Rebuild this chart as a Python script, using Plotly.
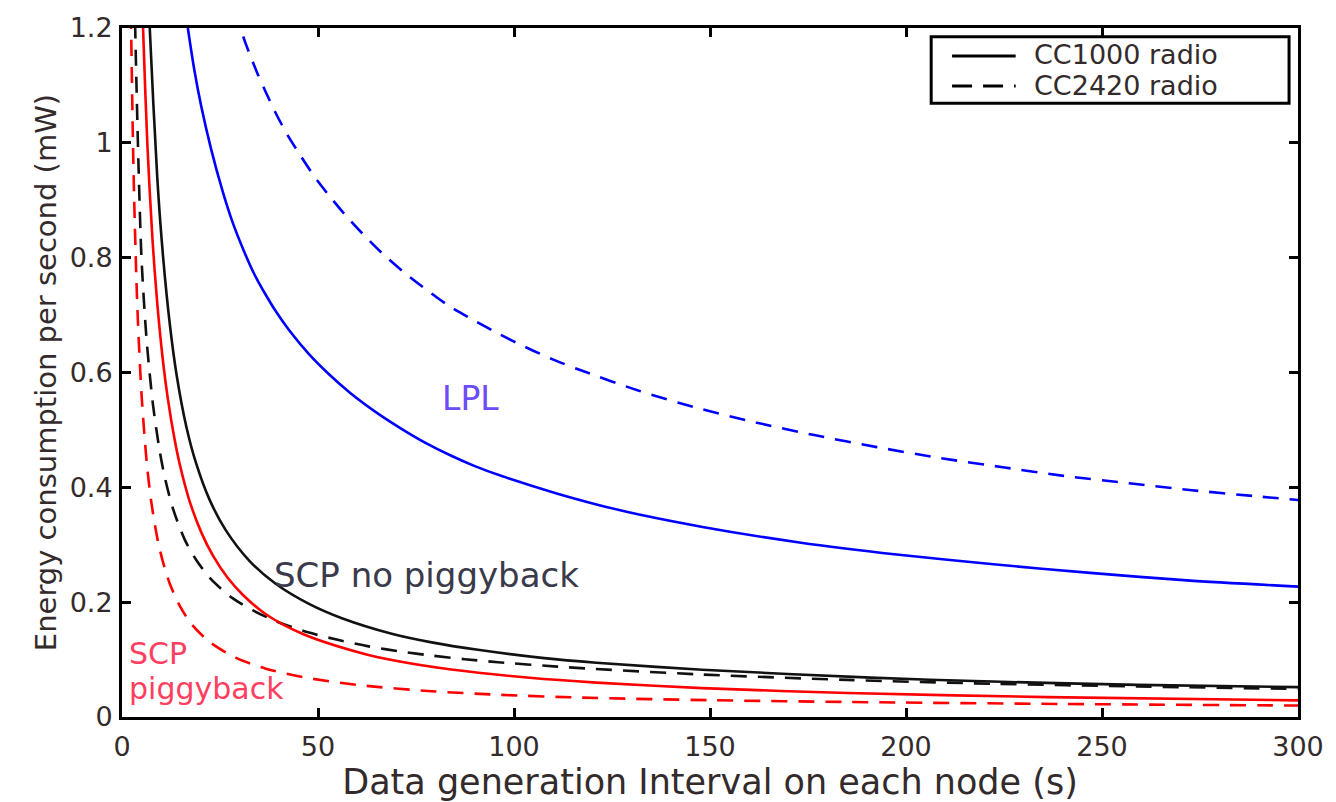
import plotly.graph_objects as go

# ---------------- data ----------------
# LPL, CC1000 radio (blue solid)
lpl_cc1000_t = [15.6, 16.8, 18.5, 20.2, 22.7, 25.7, 28.2, 31.2, 33.7, 36.7, 39.2, 42.6, 47.7, 52.8,
                58.3, 65.4, 71.3, 77.3, 84.0, 90.0, 96.7, 111.1, 127.1, 148.1, 172.8, 197.6,
                222.3, 247.0, 271.7, 300.0]
lpl_cc1000_e = [1.26, 1.20, 1.125, 1.064, 0.990, 0.915, 0.862, 0.810, 0.772, 0.735, 0.707, 0.674, 0.632, 0.597,
                0.564, 0.528, 0.502, 0.478, 0.455, 0.437, 0.420, 0.389, 0.360, 0.331, 0.304, 0.283,
                0.266, 0.251, 0.238, 0.227]

# LPL, CC2420 radio (blue dashed)
lpl_cc2420_t = [28.8, 30.2, 31.6, 34.6, 36.7, 39.2, 42.2, 45.6, 48.9, 53.2, 57.0, 61.2, 66.3, 72.2,
                78.1, 83.2, 90.0, 95.9, 103.0, 110.2, 117.4, 131.5, 146.9, 161.7, 176.6, 192.6,
                208.7, 224.7, 240.2, 256.9, 272.9, 288.4, 300.0]
lpl_cc2420_e = [1.23, 1.20, 1.172, 1.120, 1.088, 1.052, 1.014, 0.977, 0.943, 0.905, 0.874, 0.843, 0.808, 0.773,
                0.742, 0.717, 0.690, 0.668, 0.644, 0.622, 0.603, 0.569, 0.538, 0.513, 0.491, 0.470,
                0.451, 0.435, 0.420, 0.407, 0.395, 0.385, 0.378]

# SCP no piggyback, CC1000 radio (black solid)
scp_np_cc1000_t = [6.4, 7.1, 9.0, 10.5, 12.2, 13.9, 16.4, 18.9, 22.3, 26.5, 32.5, 39.2, 47.7, 56.1,
                   68.8, 79.0, 90.8, 107.7, 121.0, 148.0, 191.0, 222.0, 259.0, 300.0]
scp_np_cc1000_e = [1.32, 1.197, 0.939, 0.800, 0.684, 0.597, 0.506, 0.442, 0.379, 0.325, 0.272, 0.232, 0.197, 0.172,
                   0.145, 0.130, 0.117, 0.1026, 0.0946, 0.0824, 0.0686, 0.0617, 0.056, 0.052]

# SCP no piggyback, CC2420 radio (black dashed)
scp_np_cc2420_t = [3.0, 3.4, 4.2, 5.0, 6.3, 7.9, 9.6, 10.9, 13.0, 16.0, 18.9, 22.7, 28.2, 33.3, 39.2,
                   47.7, 55.3, 62.9, 72.2, 79.0, 87.4, 95.9, 111.0, 118.0, 148.0, 185.0, 222.0, 259.0, 300.0]
scp_np_cc2420_e = [1.35, 1.19, 0.964, 0.795, 0.655, 0.544, 0.464, 0.418, 0.363, 0.309, 0.274, 0.240, 0.207, 0.186, 0.167,
                   0.147, 0.134, 0.123, 0.113, 0.107, 0.1007, 0.0954, 0.0878, 0.0847, 0.074, 0.0646, 0.0579, 0.0531, 0.049]

# SCP piggyback, CC1000 radio (red solid)
scp_pb_cc1000_t = [5.0, 5.4, 6.5, 7.8, 9.0, 10.5, 11.7, 13.4, 14.7, 17.2, 20.2, 23.2, 27.0, 30.8, 36.7,
                   46.0, 61.2, 70.5, 84.0, 104.0, 121.0, 148.0, 185.0, 236.0, 300.0]
scp_pb_cc1000_e = [1.29, 1.194, 0.993, 0.829, 0.720, 0.617, 0.554, 0.484, 0.441, 0.377, 0.322, 0.281, 0.242, 0.213, 0.179,
                   0.145, 0.111, 0.097, 0.0827, 0.0683, 0.0599, 0.0503, 0.0419, 0.0347, 0.029]

# SCP piggyback, CC2420 radio (red dashed)
scp_pb_cc2420_t = [2.1, 2.3, 2.8, 3.1, 3.7, 4.1, 5.0, 6.3, 7.5, 9.2, 10.5, 12.2, 14.7, 17.7, 22.3, 29.1,
                   36.7, 46.0, 60.4, 79.0, 96.0, 117.0, 150.0, 185.0, 240.0, 300.0]
scp_pb_cc2420_e = [1.32, 1.21, 1.00, 0.903, 0.757, 0.683, 0.560, 0.444, 0.373, 0.305, 0.269, 0.232, 0.194, 0.162, 0.131, 0.103,
                   0.0842, 0.0696, 0.0556, 0.0449, 0.0388, 0.0338, 0.0293, 0.0262, 0.0227, 0.020]

x_tick_vals = [0, 50, 100, 150, 200, 250, 300]
x_tick_text = ["0", "50", "100", "150", "200", "250", "300"]
y_tick_vals = [0, 0.2, 0.4, 0.6, 0.8, 1.0, 1.2]
y_tick_text = ["0", "0.2", "0.4", "0.6", "0.8", "1", "1.2"]

legend_labels = ["CC1000 radio", "CC2420 radio"]

# ---------------- styling ----------------
FONT = "DejaVu Sans"
TEXT = "#332b2b"
BLUE, BLACK, RED = "#0000ff", "#111111", "#ff0000"
DASH = "16px,11px"
LW = 2.6

L, R, T, B = 122, 31, 19, 70
WIDTH, HEIGHT = 1336, 802
PW, PH = WIDTH - L - R, HEIGHT - T - B


def px_x(px):
    return (px - L) / PW


def px_y(py):
    return (HEIGHT - B - py) / PH


fig = go.Figure()


def add_curve(t, e, color, dash):
    fig.add_trace(go.Scatter(
        x=t, y=e, mode="lines",
        line=dict(color=color, width=LW, dash=dash, shape="spline", smoothing=0.8),
        showlegend=False, hoverinfo="skip"))


add_curve(lpl_cc2420_t, lpl_cc2420_e, BLUE, DASH)
add_curve(lpl_cc1000_t, lpl_cc1000_e, BLUE, "solid")
add_curve(scp_np_cc2420_t, scp_np_cc2420_e, BLACK, DASH)
add_curve(scp_np_cc1000_t, scp_np_cc1000_e, BLACK, "solid")
add_curve(scp_pb_cc2420_t, scp_pb_cc2420_e, RED, DASH)
add_curve(scp_pb_cc1000_t, scp_pb_cc1000_e, RED, "solid")

axis_common = dict(
    ticks="inside", ticklen=9, tickwidth=3, tickcolor="black",
    showline=True, linewidth=3, linecolor="black", mirror="ticks",
    showgrid=False, zeroline=False,
    tickfont=dict(family=FONT, size=27, color=TEXT),
)

fig.update_xaxes(
    range=[0, 300], tickmode="array", tickvals=x_tick_vals, ticktext=x_tick_text,
    ticklabelstandoff=4,
    title=dict(text="Data generation Interval on each node (s)",
               font=dict(family=FONT, size=35, color=TEXT), standoff=3),
    **axis_common)
fig.update_yaxes(
    range=[0, 1.2], tickmode="array", tickvals=y_tick_vals, ticktext=y_tick_text,
    ticklabelstandoff=1,
    title=dict(text="Energy consumption per second (mW)",
               font=dict(family=FONT, size=29, color=TEXT), standoff=5),
    **axis_common)

annotations = [
    dict(x=81.1, y=0.554, text="LPL", font=dict(family=FONT, size=33, color="#6b4cf5")),
    dict(x=38.3, y=0.248, text="SCP no piggyback", font=dict(family=FONT, size=34, color="#3a3a4a")),
    dict(x=1.3, y=0.111, text="SCP", font=dict(family=FONT, size=30, color="#ff3f5f")),
    dict(x=1.3, y=0.049, text="piggyback", font=dict(family=FONT, size=30, color="#ff3f5f")),
]
for a in annotations:
    a.update(xref="x", yref="y", xanchor="left", yanchor="middle", showarrow=False)

# legend box drawn in the upper-right corner
shapes = [
    dict(type="rect", xref="paper", yref="paper",
         x0=px_x(936), x1=px_x(1296), y0=px_y(97), y1=px_y(28),
         line=dict(color="black", width=3), fillcolor="white", layer="above"),
    dict(type="line", xref="paper", yref="paper",
         x0=px_x(957), x1=px_x(1021), y0=px_y(48), y1=px_y(48),
         line=dict(color="black", width=3), layer="above"),
    dict(type="line", xref="paper", yref="paper",
         x0=px_x(957), x1=px_x(1021), y0=px_y(79), y1=px_y(79),
         line=dict(color="black", width=3, dash="20px,11px"), layer="above"),
]
for label, py in zip(legend_labels, [46.5, 79]):
    annotations.append(dict(x=px_x(1037), y=px_y(py), xref="paper", yref="paper",
                            xanchor="left", yanchor="middle", showarrow=False, text=label,
                            font=dict(family=FONT, size=27, color=TEXT)))

fig.update_layout(
    width=WIDTH, height=HEIGHT,
    margin=dict(l=L, r=R, t=T, b=B),
    paper_bgcolor="white", plot_bgcolor="white",
    showlegend=False,
    font=dict(family=FONT, color=TEXT),
    annotations=annotations, shapes=shapes,
)

fig.write_html("out.html")
